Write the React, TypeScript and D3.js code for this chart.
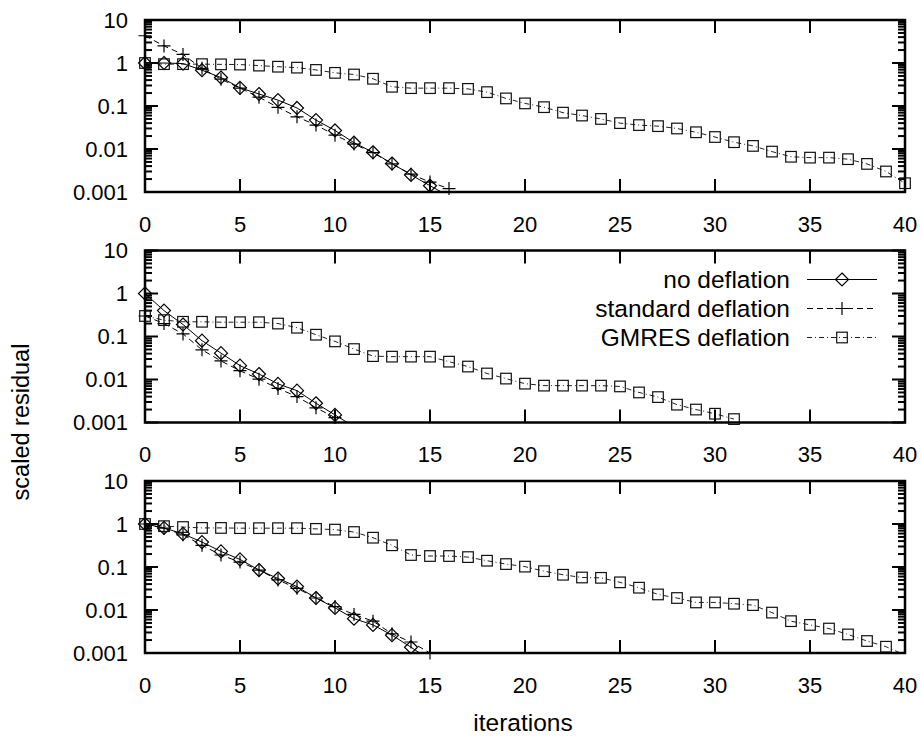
import * as d3 from 'd3';

// iteration index is the x value; each array is read per iteration starting at 0
const p1NoDefl = [1.0, 1.0, 0.97, 0.68, 0.46, 0.265, 0.19, 0.137, 0.09, 0.047, 0.027, 0.014, 0.0084, 0.0046, 0.0025, 0.0014, 0.0008];
const p1Std = [4.3, 2.5, 1.58, 0.75, 0.42, 0.26, 0.16, 0.093, 0.056, 0.036, 0.021, 0.013, 0.0082, 0.0045, 0.0026, 0.0017, 0.0012];
const p1Gmres = [1.0, 0.94, 0.94, 0.94, 0.93, 0.92, 0.87, 0.82, 0.78, 0.69, 0.59, 0.54, 0.43, 0.28, 0.26, 0.26, 0.26, 0.25, 0.21, 0.15, 0.115, 0.094, 0.07, 0.06, 0.05, 0.04, 0.036, 0.034, 0.03, 0.0245, 0.019, 0.0144, 0.0118, 0.0087, 0.0066, 0.0063, 0.0063, 0.0058, 0.0045, 0.003, 0.0016];

const p2NoDefl = [1.0, 0.4, 0.19, 0.08, 0.041, 0.021, 0.0134, 0.0079, 0.0055, 0.0028, 0.0015, 0.0008];
const p2Std = [0.3, 0.2, 0.115, 0.049, 0.027, 0.016, 0.0102, 0.0062, 0.004, 0.0022, 0.0013];
const p2Gmres = [0.3, 0.24, 0.22, 0.22, 0.215, 0.215, 0.215, 0.2, 0.16, 0.11, 0.077, 0.051, 0.035, 0.034, 0.034, 0.034, 0.026, 0.02, 0.0138, 0.0105, 0.008, 0.0072, 0.0072, 0.0072, 0.0072, 0.0069, 0.005, 0.0039, 0.0026, 0.002, 0.0016, 0.0012];

const p3NoDefl = [1.0, 0.81, 0.59, 0.38, 0.23, 0.15, 0.085, 0.054, 0.035, 0.019, 0.0112, 0.0063, 0.0045, 0.0026, 0.00136, 0.0007];
const p3Std = [1.0, 0.8, 0.56, 0.32, 0.19, 0.13, 0.085, 0.05, 0.032, 0.019, 0.012, 0.0079, 0.0055, 0.0028, 0.0018, 0.001];
const p3Gmres = [1.0, 0.89, 0.85, 0.81, 0.81, 0.8, 0.8, 0.8, 0.8, 0.77, 0.74, 0.65, 0.48, 0.32, 0.19, 0.18, 0.18, 0.17, 0.14, 0.117, 0.102, 0.08, 0.066, 0.057, 0.056, 0.044, 0.033, 0.023, 0.019, 0.015, 0.015, 0.014, 0.013, 0.0087, 0.0055, 0.0045, 0.0037, 0.0027, 0.0019, 0.0014, 0.0009];

const panels = [
  { noDefl: p1NoDefl, std: p1Std, gmres: p1Gmres },
  { noDefl: p2NoDefl, std: p2Std, gmres: p2Gmres },
  { noDefl: p3NoDefl, std: p3Std, gmres: p3Gmres },
];

const xTicks = [0, 5, 10, 15, 20, 25, 30, 35, 40];
const yTicks = [0.001, 0.01, 0.1, 1, 10];
const yTickLabels = ['0.001', '0.01', '0.1', '1', '10'];
const legendLabels = ['no deflation', 'standard deflation', 'GMRES deflation'];

const W = 921;
const H = 740;
const left = 145;
const right = 905;
const panelTops = [20, 250.5, 481];
const panelH = 172;
const FONT = '"Liberation Sans", Arial, sans-serif';
const FS = 22; // numbers
const FW = 24.5; // words

const x = d3.scaleLinear().domain([0, 40]).range([left, right]);

const dashStd = '6,4';
const dashGm = '5,3,1,3';

function Marker({ kind, cx, cy }: { kind: string; cx: number; cy: number }) {
  if (kind === 'diamond') {
    const r = 6.5;
    return (
      <path
        d={`M${cx},${cy - r}L${cx + r},${cy}L${cx},${cy + r}L${cx - r},${cy}Z`}
        fill="none"
        stroke="#000"
        strokeWidth={1.2}
      />
    );
  }
  if (kind === 'plus') {
    const r = 6.5;
    return (
      <path d={`M${cx - r},${cy}H${cx + r}M${cx},${cy - r}V${cy + r}`} stroke="#000" strokeWidth={1.2} fill="none" />
    );
  }
  const s = 5.3;
  return <rect x={cx - s} y={cy - s} width={2 * s} height={2 * s} fill="none" stroke="#111" strokeWidth={1.2} />;
}

function Panel({ top, data, idx }: { top: number; data: any; idx: number }) {
  const y = d3.scaleLog().domain([0.001, 10]).range([top + panelH, top]);
  const line = d3
    .line<number>()
    .x((_, i) => x(i))
    .y((d) => y(d));

  const minor: number[] = [];
  for (let e = -3; e < 1; e++) {
    for (let k = 2; k <= 9; k++) minor.push(k * Math.pow(10, e));
  }

  const series = [
    { vals: data.noDefl, dash: undefined, stroke: '#000', kind: 'diamond' },
    { vals: data.std, dash: dashStd, stroke: '#000', kind: 'plus' },
    { vals: data.gmres, dash: dashGm, stroke: '#222', kind: 'square' },
  ];

  const clipId = `clip${idx}`;
  const bottom = top + panelH;

  return (
    <g>
      <defs>
        <clipPath id={clipId}>
          <rect x={left} y={top} width={right - left} height={panelH} />
        </clipPath>
      </defs>

      {/* minor y ticks, left and right */}
      {minor.map((v, i) => (
        <g key={'m' + i} stroke="#000" strokeWidth={2}>
          <line x1={left} x2={left + 7} y1={y(v)} y2={y(v)} />
          <line x1={right} x2={right - 7} y1={y(v)} y2={y(v)} />
        </g>
      ))}
      {yTicks.map((v, i) => (
        <g key={'y' + i}>
          <line x1={left} x2={left + 13} y1={y(v)} y2={y(v)} stroke="#000" strokeWidth={2} />
          <line x1={right} x2={right - 13} y1={y(v)} y2={y(v)} stroke="#000" strokeWidth={2} />
          <text
            x={128}
            y={y(v)}
            textAnchor="end"
            dominantBaseline="central"
            fontFamily={FONT}
            fontSize={FS}
          >
            {yTickLabels[i]}
          </text>
        </g>
      ))}
      {xTicks.map((v, i) => (
        <g key={'x' + i}>
          <line x1={x(v)} x2={x(v)} y1={bottom} y2={bottom - 13} stroke="#000" strokeWidth={2} />
          <line x1={x(v)} x2={x(v)} y1={top} y2={top + 13} stroke="#000" strokeWidth={2} />
          <text x={x(v)} y={bottom + 32} textAnchor="middle" dominantBaseline="central" fontFamily={FONT} fontSize={FS}>
            {v}
          </text>
        </g>
      ))}

      {series.map((s, si) => (
        <path
          key={'l' + si}
          d={line(s.vals) || ''}
          fill="none"
          stroke={s.stroke}
          strokeWidth={1}
          strokeDasharray={s.dash}
          clipPath={`url(#${clipId})`}
        />
      ))}
      {series.map((s, si) => (
        <g key={'p' + si}>
          {s.vals.map((v: number, i: number) =>
            v >= 0.00095 && v <= 10 ? <Marker key={i} kind={s.kind} cx={x(i)} cy={y(v)} /> : null
          )}
        </g>
      ))}

      <rect x={left} y={top} width={right - left} height={panelH} fill="none" stroke="#000" strokeWidth={2.5} />

      {idx === 1 &&
        legendLabels.map((lab, i) => {
          const ly = top + 29 + i * 29;
          const s = series[i];
          return (
            <g key={'lg' + i}>
              <text x={790} y={ly} textAnchor="end" dominantBaseline="central" fontFamily={FONT} fontSize={FW}>
                {lab}
              </text>
              <line x1={807} x2={877} y1={ly} y2={ly} stroke={s.stroke} strokeWidth={1} strokeDasharray={s.dash} />
              <Marker kind={s.kind} cx={842} cy={ly} />
            </g>
          );
        })}
    </g>
  );
}

export default function App() {
  return (
    <svg
      width={W}
      height={H}
      viewBox={`0 0 ${W} ${H}`}
      style={{ position: 'absolute', left: 0, top: 0, background: '#fff' }}
    >
      <rect x={0} y={0} width={W} height={H} fill="#fff" />
      {panels.map((p, i) => (
        <Panel key={i} top={panelTops[i]} data={p} idx={i} />
      ))}
      <text x={523} y={722} textAnchor="middle" dominantBaseline="central" fontFamily={FONT} fontSize={FW}>
        iterations
      </text>
      <text
        transform="translate(21,422) rotate(-90)"
        textAnchor="middle"
        dominantBaseline="central"
        fontFamily={FONT}
        fontSize={23.5}
      >
        scaled residual
      </text>
    </svg>
  );
}
